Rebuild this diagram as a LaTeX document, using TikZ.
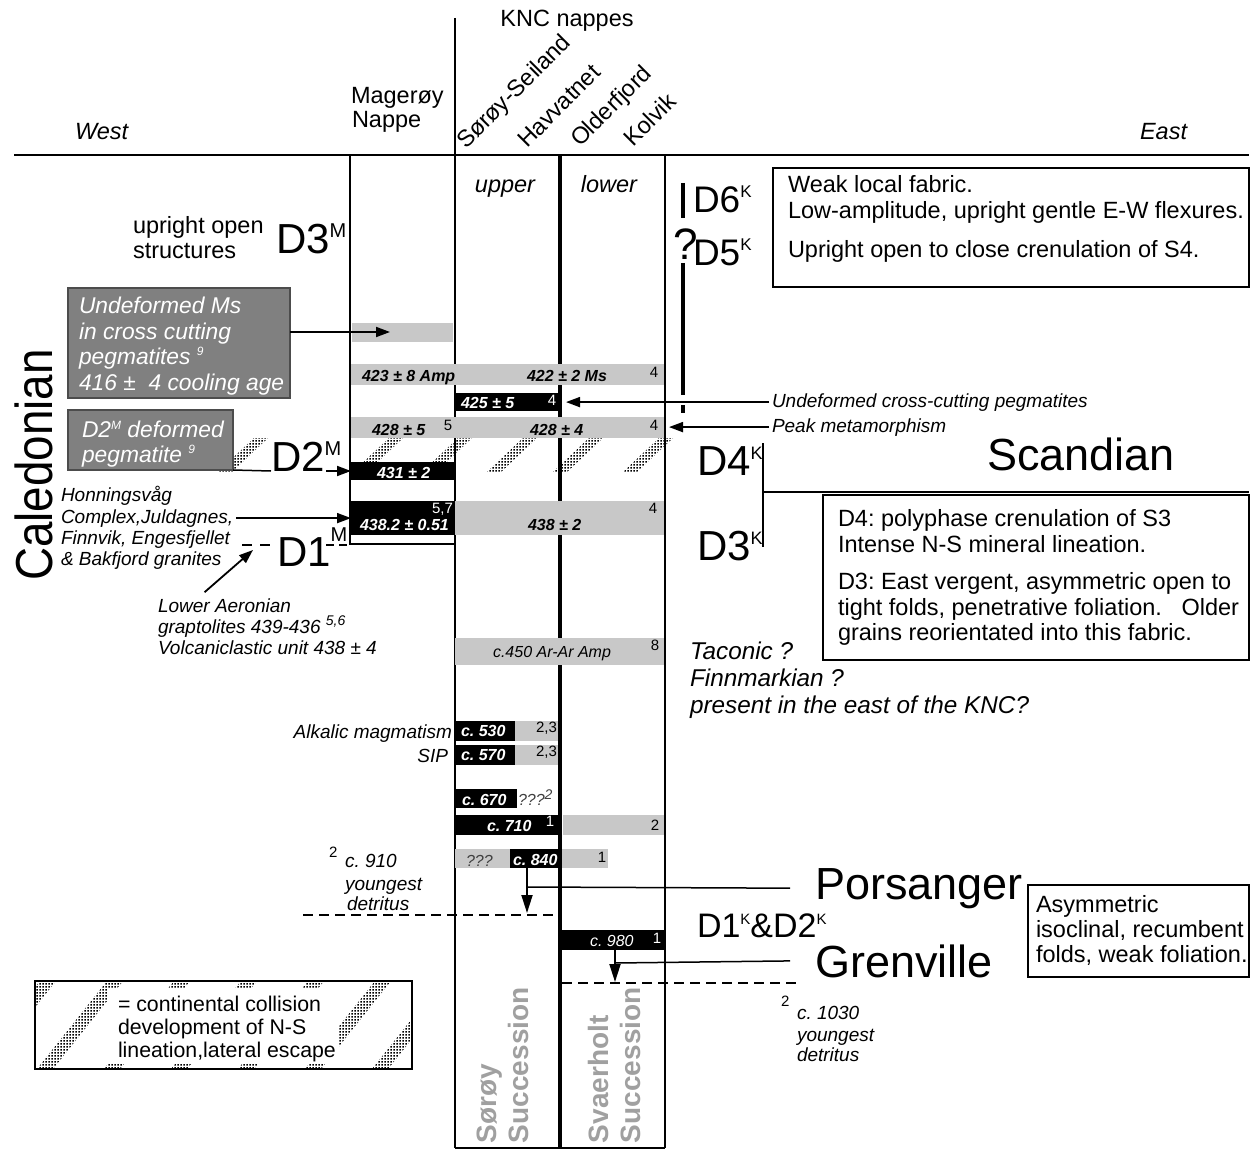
\documentclass[tikz,border=0pt]{standalone}
\usepackage{fontspec}
\setmainfont{Liberation Sans}
\usetikzlibrary{arrows.meta,patterns}
\definecolor{lg}{RGB}{200,200,200}
\definecolor{dg}{RGB}{128,128,128}
\definecolor{sg}{RGB}{160,160,160}
\newcommand{\mysup}[3]{\raisebox{#1}{\fontsize{#2}{#2}\selectfont #3}}
\pgfdeclarepatternformonly{densedots}{\pgfqpoint{0pt}{0pt}}{\pgfqpoint{3pt}{3pt}}{\pgfqpoint{3pt}{3pt}}{%
  \pgfpathrectangle{\pgfqpoint{0.5pt}{0.5pt}}{\pgfqpoint{2pt}{2pt}}\pgfusepath{fill}}
\frenchspacing
\begin{document}
\begin{tikzpicture}[x=1pt,y=-1pt,
  b/.style={inner sep=0,outer sep=0,anchor=base west},
  bc/.style={inner sep=0,outer sep=0,anchor=base},
  be/.style={inner sep=0,outer sep=0,anchor=base east},
  f22/.style={font=\fontsize{23.5}{27}\selectfont},
  i22/.style={font=\fontsize{23.5}{27}\selectfont\itshape},
  i24/.style={font=\fontsize{24.3}{28}\selectfont\itshape},
  iw/.style={font=\fontsize{22.8}{26}\selectfont\itshape,text=white},
  i19/.style={font=\fontsize{19}{22}\selectfont\itshape},
  bi16/.style={font=\fontsize{16}{18}\selectfont\bfseries\itshape},
  i16/.style={font=\fontsize{16}{18}\selectfont\itshape},
  n15/.style={font=\fontsize{15}{17}\selectfont},
  bigM/.style={font=\fontsize{42}{42}\selectfont},
  bigK/.style={font=\fontsize{37}{37}\selectfont},
  hugef/.style={font=\fontsize{45}{45}\selectfont},
  rect/.style={inner sep=0,outer sep=0,anchor=north west},
  lbar/.style={rect,fill=lg},
  kbar/.style={rect,fill=black},
  ln/.style={line width=2pt},
  arr/.style={line width=1.8pt,-{Triangle[length=14pt,width=10pt]}},
  dsh/.style={line width=2.5pt,dash pattern=on 10pt off 6pt},
  framebox/.style={rect,draw,line width=2pt},
  gbox/.style={rect,draw=black!70,line width=1.5pt,fill=dg},
  strip/.style={pattern=densedots}
]
\useasboundingbox (0,0) rectangle (1250,1150);

% ---- frame lines
\draw[ln] (14,155) -- (1249,155);
\draw[line width=2.5pt] (455,18) -- (455,1148);
\draw[line width=4pt] (560,155) -- (560,1148);
\draw[ln] (665,155) -- (665,1148);
\draw[ln] (350,155) -- (350,544) -- (455,544);
\draw[ln] (455,1148) -- (665,1148);

% ---- stippled strips
\foreach \q in {353,422,487,553,623}
  \fill[strip] (\q,472) -- ++(14,0) -- ++(36,-34) -- ++(-14,0) -- cycle;
\fill[strip] (218,472) -- ++(14,0) -- ++(36,-34) -- ++(-14,0) -- cycle;

% ---- bars
\node[lbar,minimum width=101pt,minimum height=19pt] (mgbar) at (352,323) {};
\node[lbar,minimum width=313pt,minimum height=21pt] (b423) at (351,364) {};
\node[kbar,minimum width=105pt,minimum height=18pt] (b425) at (455,393) {};
\node[lbar,minimum width=313pt,minimum height=21pt] (b428) at (351,417) {};
\node[kbar,minimum width=104pt,minimum height=18pt] (b431) at (351,462) {};
\node[kbar,minimum width=104pt,minimum height=34pt] (b4382) at (351,501) {};
\node[lbar,minimum width=209pt,minimum height=34pt] (b438) at (455,501) {};
\node[lbar,minimum width=209pt,minimum height=27pt] (b450) at (455,638) {};
\node[kbar,minimum width=60pt,minimum height=20pt] (b530k) at (455,721) {};
\node[lbar,minimum width=43pt,minimum height=20pt] (b530g) at (515,721) {};
\node[kbar,minimum width=60pt,minimum height=20pt] (b570k) at (455,745) {};
\node[lbar,minimum width=43pt,minimum height=20pt] (b570g) at (515,745) {};
\node[kbar,minimum width=62pt,minimum height=19pt] (b670) at (455,789) {};
\node[kbar,minimum width=105pt,minimum height=20pt] (b710k) at (455,815) {};
\node[lbar,minimum width=101pt,minimum height=20pt] (b710g) at (563,815) {};
\node[lbar,minimum width=55pt,minimum height=19pt] (b840q) at (455,849) {};
\node[kbar,minimum width=50pt,minimum height=19pt] (b840k) at (510,849) {};
\node[lbar,minimum width=46pt,minimum height=19pt] (b840g) at (562,849) {};
\node[kbar,minimum width=103pt,minimum height=20pt] (b980) at (562,930) {};

% ---- bar texts
\node[b,bi16] (t423) at (362,381) {423 ± 8 Amp};
\node[b,bi16] (t422) at (527,381) {422 ± 2 Ms};
\node[bc,n15] (r423) at (654,377) {4};
\node[b,bi16,text=white] (t425) at (461,408) {425 ± 5};
\node[bc,n15,text=white] (r425) at (552,405) {4};
\node[b,bi16] (t428a) at (372,435) {428 ± 5};
\node[bc,n15] (r428a) at (448,430) {5};
\node[b,bi16] (t428b) at (530,435) {428 ± 4};
\node[bc,n15] (r428b) at (654,430) {4};
\node[b,bi16,text=white] (t431) at (377,478) {431 ± 2};
\node[be,n15,text=white] (r4382) at (453,513) {5,7};
\node[b,bi16,text=white] (t4382) at (360,530) {438.2 ± 0.51};
\node[b,bi16] (t438) at (528,530) {438 ± 2};
\node[bc,n15] (r438) at (653,513) {4};
\node[bc,i16] (t450) at (552,657) {c.450 Ar-Ar Amp};
\node[bc,n15] (r450) at (655,650) {8};
\node[b,bi16,text=white] (t530) at (461,736) {c. 530};
\node[be,n15] (r530) at (557,732) {2,3};
\node[b,bi16,text=white] (t570) at (461,760) {c. 570};
\node[be,n15] (r570) at (557,756) {2,3};
\node[be,i19] (alk) at (452,738) {Alkalic magmatism};
\node[be,i19] (sip) at (448,762) {SIP};
\node[b,bi16,text=white] (t670) at (462,805) {c. 670};
\node[b,i16,text=black!75] (q670) at (518,805) {???\mysup{6pt}{14}{2}};
\node[b,bi16,text=white] (t710) at (487,831) {c. 710};
\node[bc,n15,text=white] (r710) at (550,826) {1};
\node[bc,n15] (r710g) at (655,830) {2};
\node[b,i16,text=black!75] (q840) at (466,866) {???};
\node[b,bi16,text=white] (t840) at (513,865) {c. 840};
\node[bc,n15] (r840) at (602,862) {1};
\node[b,i16,text=white] (t980) at (590,946) {c. 980};
\node[bc,n15,text=white] (r980) at (657,943) {1};

% ---- header
\node[b,i22] (west) at (75,140) {West};
\node[b,i22] (east) at (1140,140) {East};
\node[b,f22] (mag1) at (351,104) {Magerøy};
\node[b,f22] (mag2) at (352,128) {Nappe};
\node[bc,f22] (knc) at (567,27) {KNC nappes};
\node[b,f22,rotate=45] (nsor) at (466,150) {Sørøy-Seiland};
\node[b,f22,rotate=45] (nhav) at (527,149) {Havvatnet};
\node[b,f22,rotate=45] (nold) at (580,148) {Olderfjord};
\node[b,f22,rotate=45] (nkol) at (633,148) {Kolvik};
\node[bc,i22] (upper) at (505,193) {upper};
\node[bc,i22] (lower) at (609,193) {lower};

% ---- left side
\node[b,f22] (up1) at (133,234) {upright open};
\node[b,f22] (up2) at (133,259) {structures};
\node[b,bigM] (d3m) at (276,254) {D3\mysup{16pt}{20}{M}};

\node[gbox,minimum width=222pt,minimum height=110pt] (umbox) at (68,288) {};
\node[b,iw] (um1) at (79,313) {Undeformed Ms};
\node[b,iw] (um2) at (79,339) {in cross cutting};
\node[b,iw] (um3) at (79,364) {pegmatites \mysup{9pt}{12}{9}};
\node[b,iw] (um4) at (79,390) {416 ±\ \ 4 cooling age};
\coordinate (umtip) at (390,332);
\draw[arr] (umbox.east |- umtip) -- (umtip);

\node[gbox,minimum width=165pt,minimum height=60pt] (d2box) at (68,410) {};
\node[b,iw] (dp1) at (82,437) {D2\mysup{8pt}{12}{M} deformed};
\node[b,iw] (dp2) at (82,462) {pegmatite \mysup{9pt}{12}{9}};
\node[b,bigM] (d2m) at (271,471) {D2\mysup{16pt}{20}{M}};
\draw[line width=1.5pt] (d2box.south east) -- (d2m.base west);
\coordinate (d2a) at (326,471);
\draw[arr] (d2a) -- (b431.west);

\node[b,i19] (hon1) at (61,501) {Honningsvåg};
\node[b,i19] (hon2) at (61,523) {Complex,Juldagnes,};
\node[b,i19] (hon3) at (61,544) {Finnvik, Engesfjellet};
\node[b,i19] (hon4) at (61,565) {\& Bakfjord granites};
\draw[arr] ([xshift=3pt]hon2.east) -- (hon2.east -| b4382.west);

\node[b,bigM] (d1m) at (277,566) {D1\mysup{25pt}{20}{M}};
\draw[line width=2pt,dash pattern=on 10pt off 8pt] (242,545) -- (274,545);
\draw[line width=2pt,dash pattern=on 8pt off 5pt] (326,545) -- (350,545);

\node[b,i19] (aer1) at (158,612) {Lower Aeronian};
\node[b,i19] (aer2) at (158,633) {graptolites 439-436 \mysup{8pt}{14}{5,6}};
\node[b,i19] (aer3) at (158,654) {Volcaniclastic unit 438 ± 4};
\coordinate (aertip) at (253,550);
\draw[arr] ([xshift=-20pt,yshift=6pt]aer1.north) -- (aertip);

\node[inner sep=0,rotate=90] (cal) at (34,465) {\scalebox{0.88}[1]{\fontsize{52}{52}\selectfont Caledonian}};

% ---- right side upper
\draw[line width=4pt] (683,183) -- (683,218);
\draw[line width=4pt] (683,263) -- (683,395);
\draw[line width=4pt] (683,405) -- (683,413);
\node[inner sep=0,font=\fontsize{44}{44}\selectfont] (qm) at (686,244) {?};
\node[b,bigK] (d6k) at (693,213) {D6\mysup{15pt}{17}{K}};
\node[b,bigK] (d5k) at (693,266) {D5\mysup{15pt}{17}{K}};

\node[framebox,minimum width=476pt,minimum height=119pt] (tbox) at (773,168) {};
\node[b,f22] (tb1) at (788,193) {Weak local fabric.};
\node[b,f22] (tb2) at (788,219) {Low-amplitude, upright gentle E-W flexures.};
\node[b,f22] (tb3) at (788,258) {Upright open to close crenulation of S4.};

\node[b,i19] (ucp) at (772,407) {Undeformed cross-cutting pegmatites};
\node[b,i19] (peak) at (772,432) {Peak metamorphism};
\draw[arr,shorten >=6pt] ([xshift=-3pt]ucp.west) -- (ucp.west -| b425.east);
\draw[arr,shorten >=5pt] ([xshift=-3pt]peak.west) -- (peak.west -| b428.east);

\node[b,hugef] (scan) at (987,470) {Scandian};
\node[b,bigM] (d4k) at (697,475) {D4\mysup{16pt}{18}{K}};
\node[b,bigM] (d3k) at (697,560) {D3\mysup{16pt}{18}{K}};
\draw[ln] (763,443) -- (763,547);
\draw[ln] (763,492) -- (1249,492);
\node[framebox,minimum width=426pt,minimum height=165pt] (d34box) at (823,495) {};
\node[b,f22] (bx1) at (838,526) {D4: polyphase crenulation of S3};
\node[b,f22] (bx2) at (838,552) {Intense N-S mineral lineation.};
\node[b,f22] (bx3) at (838,589) {D3: East vergent, asymmetric open to};
\node[b,f22] (bx4) at (838,615) {tight folds, penetrative foliation.\ \ \ Older};
\node[b,f22] (bx5) at (838,640) {grains reorientated into this fabric.};

\node[b,i24] (tac1) at (690,659) {Taconic ?};
\node[b,i24] (tac2) at (690,686) {Finnmarkian ?};
\node[b,i24] (tac3) at (690,713) {present in the east of the KNC?};

% ---- lower part
\node[b,n15] (s910) at (329,857) {2};
\node[b,i19] (c910) at (345,867) {c. 910};
\node[b,i19] (y910) at (345,890) {youngest};
\node[b,i19] (d910) at (347,910) {detritus};
\draw[dsh] (303,915) -- (558,915);

\node[b,hugef] (pors) at (815,899) {Porsanger};
\node[b,hugef] (gren) at (815,977) {Grenville};
\node[b,font=\fontsize{34}{34}\selectfont] (d12k) at (697,937) {D1\mysup{13pt}{15}{K}\&D2\mysup{13pt}{15}{K}};

\coordinate (pa) at (527,887);
\coordinate (pt) at (527,913);
\draw[line width=1.5pt] ([xshift=-25pt]pors.west) -- (pa);
\draw[line width=1.8pt,-{Triangle[length=18pt,width=11pt]}] (b840k.south -| pa) -- (pt);

\coordinate (ga) at (615,963);
\coordinate (gt) at (615,982);
\draw[line width=1.5pt] ([xshift=-25pt]gren.west) -- (ga);
\draw[line width=1.8pt,-{Triangle[length=18pt,width=11pt]}] (b980.south -| ga) -- (gt);
\draw[dsh] (562,983) -- (800,983);

\node[framebox,minimum width=221pt,minimum height=92pt] (abox) at (1028,885) {};
\node[b,f22] (ab1) at (1036,912) {Asymmetric};
\node[b,f22] (ab2) at (1036,937) {isoclinal, recumbent};
\node[b,f22] (ab3) at (1036,962) {folds, weak foliation.};

\node[b,n15] (s1030) at (781,1006) {2};
\node[b,i19] (c1030) at (797,1019) {c. 1030};
\node[b,i19] (y1030) at (797,1041) {youngest};
\node[b,i19] (d1030) at (797,1061) {detritus};

% ---- legend
\begin{scope}
  \clip (35,981) rectangle (412,1069);
  \foreach \q in {-30,37,...,450}
    \fill[strip] (\q,1069) -- ++(16,0) -- ++(70,-88) -- ++(-16,0) -- cycle;
\end{scope}
\fill[white] (108,988) rectangle (338,1064);
\node[rect,draw,line width=1.5pt,minimum width=377pt,minimum height=88pt] (leg) at (35,981) {};
\node[b,font=\fontsize{21.3}{25}\selectfont] (lg1) at (118,1011) {= continental collision};
\node[b,font=\fontsize{21.3}{25}\selectfont] (lg2) at (118,1034) {development of N-S};
\node[b,font=\fontsize{21.3}{25}\selectfont] (lg3) at (118,1057) {lineation,lateral escape};

% ---- successions
\node[b,rotate=90,font=\fontsize{28}{28}\selectfont\bfseries,text=sg] (sor1) at (496,1143) {Sørøy};
\node[b,rotate=90,font=\fontsize{28}{28}\selectfont\bfseries,text=sg] (sor2) at (528,1143) {Succession};
\node[b,rotate=90,font=\fontsize{28}{28}\selectfont\bfseries,text=sg] (sva1) at (608,1143) {Svaerholt};
\node[b,rotate=90,font=\fontsize{28}{28}\selectfont\bfseries,text=sg] (sva2) at (640,1143) {Succession};
\end{tikzpicture}
\end{document}
